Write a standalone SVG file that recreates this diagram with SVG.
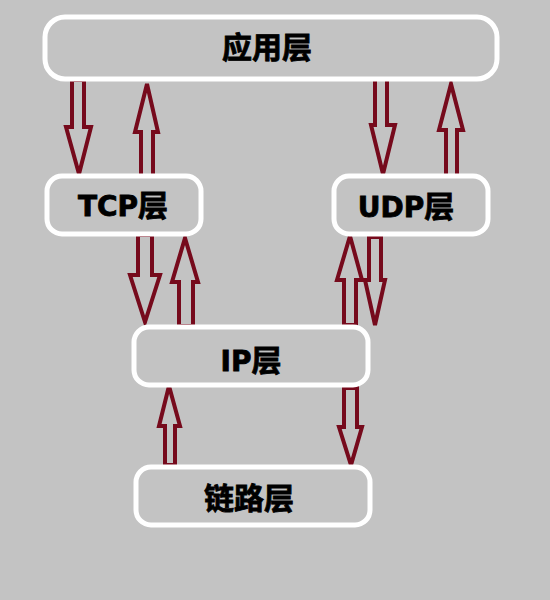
<svg xmlns="http://www.w3.org/2000/svg" width="550" height="600" viewBox="0 0 550 600">
<style>
.box{fill:#c3c3c3;stroke:#fff;stroke-width:5}
.arr{fill:#c3c3c3;stroke:#760a1c;stroke-width:4;stroke-linejoin:miter}
.t{font-family:"DejaVu Sans","Noto Sans CJK SC",sans-serif;font-weight:bold;font-size:28px;fill:#000;stroke:#000;stroke-width:0.8;text-anchor:middle}
.c{font-family:"Noto Sans CJK SC",sans-serif;font-weight:bold;font-size:30px;fill:#000;stroke:#000;stroke-width:0.8;text-anchor:middle}
</style>
<rect width="550" height="600" fill="#c3c3c3"/>
<g id="connectors">
<path class="arr" d="M72 80 H84 V127 H91 L79 174 L66 127 H72 Z"/>
<path class="arr" d="M141 178 H153 V132 H158 L147 84 L135 132 H141 Z"/>
<path class="arr" d="M138 235 H152 V275 H160 L145 322 L130 275 H138 Z"/>
<path class="arr" d="M179 326 H193 V282 H198 L185 238 L172 282 H179 Z"/>
<path class="arr" d="M375 79 H387 V125 H395 L383 174 L371 125 H375 Z"/>
<path class="arr" d="M446 177 H457 V130 H463 L451 84 L439 130 H446 Z"/>
<path class="arr" d="M344 325 H356 V280 H362 L350 236 L337 280 H344 Z"/>
<path class="arr" d="M369 237 H381 V280 H385 L375 325 L365 280 H369 Z"/>
<path class="arr" d="M165 465 H175 V426 H180 L169 386 L159 426 H165 Z"/>
<path class="arr" d="M344 388 H357 V427 H362 L351 465 L339 427 H344 Z"/>
</g>
<g id="app"><rect class="box" x="45" y="17" width="452" height="62" rx="20"/><text class="c" x="267" y="58">应用层</text></g>
<g id="tcp"><rect class="box" x="47" y="176" width="154" height="58" rx="15"/><text class="t" x="123" y="216">TCP<tspan font-family="Noto Sans CJK SC" font-size="30">层</tspan></text></g>
<g id="udp"><rect class="box" x="334" y="176" width="154" height="58" rx="15"/><text class="t" x="406" y="217">UDP<tspan font-family="Noto Sans CJK SC" font-size="30">层</tspan></text></g>
<g id="ip"><rect class="box" x="134" y="327" width="234" height="58" rx="15"/><text class="t" x="251" y="371">IP<tspan font-family="Noto Sans CJK SC" font-size="30">层</tspan></text></g>
<g id="link"><rect class="box" x="136" y="467" width="234" height="58" rx="15"/><text class="c" x="249" y="509">链路层</text></g>
</svg>
